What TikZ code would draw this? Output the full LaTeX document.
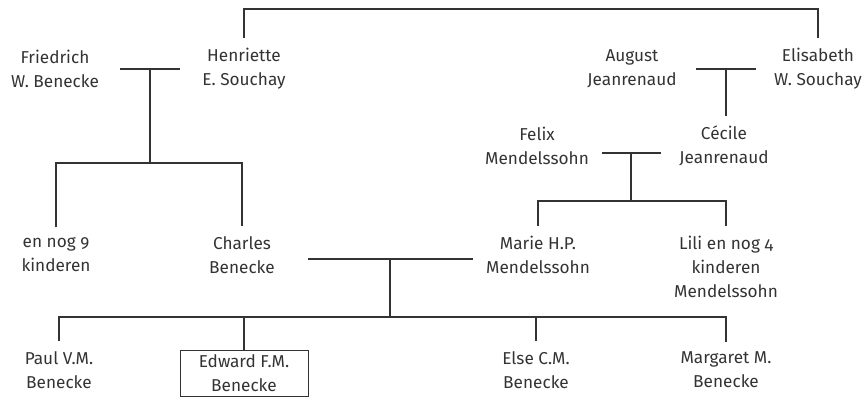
\documentclass[tikz,border=0pt]{standalone}
\usepackage{fontspec}
\setmainfont[Numbers=OldStyle]{Fira Sans}
\usepackage{tikz}
\usetikzlibrary{positioning, calc}

\definecolor{inkgray}{RGB}{51,51,51}

\begin{document}
\begin{tikzpicture}[x=0.5pt, y=-0.5pt,
	person/.style={align=center, text=inkgray, inner xsep=2pt, inner ysep=5pt, font=\fontsize{8.6}{12}\selectfont},
	boxed/.style={person, draw=inkgray, line width=0.5pt, inner ysep=2pt, minimum width=64pt},
	tie/.style={draw=inkgray, line width=0.6pt}]
	\useasboundingbox (0,0) rectangle (865,399);

	% ouders
	\node [person] (fried) at (55,69) {Friedrich\\W. Benecke};
	\node [person] (henr) at (244,69) {Henriette\\E. Souchay};
	\node [person] (aug) at (632,69) {August\\Jeanrenaud};
	\node [person] (elis) at (818,69) {Elisabeth\\W. Souchay};
	\node [person] (felix) at (537,146) {Felix\\Mendelssohn};
	\node [person] (cec) at (724,146) {Cécile\\Jeanrenaud};

	% kinderen
	\node [person] (nog) at (56,255) {en nog 9\\kinderen};
	\node [person] (charles) at (242,255) {Charles\\Benecke};
	\node [person] (marie) at (538,255) {Marie H.P.\\Mendelssohn};
	\node [person] (lili) at (726,267) {Lili en nog 4\\kinderen\\Mendelssohn};

	% kleinkinderen
	\node [person] (paul) at (59,370) {Paul V.M.\\Benecke};
	\node [boxed] (edw) at (244,373.5) {Edward F.M.\\Benecke};
	\node [person] (else) at (536,370) {Else C.M.\\Benecke};
	\node [person] (marg) at (726,370) {Margaret M.\\Benecke};

	% zusters Souchay
	\coordinate (sib) at (530,9);
	\draw [tie] (henr.north) |- (sib) -| (elis.north);

	% Benecke x Souchay
	\coordinate (fh) at (150,69);
	\coordinate (fhkids) at (150,163);
	\draw [tie] ([xshift=-15pt]fh) -- ([xshift=15pt]fh);
	\draw [tie] (fh) -- (fhkids);
	\draw [tie] (nog.north) |- (fhkids) -| (charles.north);

	% Jeanrenaud x Souchay
	\coordinate (ae) at (726,69);
	\draw [tie] ([xshift=-15pt]ae) -- ([xshift=15pt]ae);
	\draw [tie] (ae) -- (ae |- cec.north);

	% Mendelssohn x Jeanrenaud
	\coordinate (fc) at (631,153);
	\coordinate (fckids) at (631,201);
	\draw [tie] ([xshift=-14.5pt]fc) -- ([xshift=15pt]fc);
	\draw [tie] (fc) -- (fckids);
	\draw [tie] (marie.north) |- (fckids) -| (lili.north);

	% Benecke x Mendelssohn
	\coordinate (cm) at (390,259);
	\coordinate (cmkids) at (390,317);
	\draw [tie] (308,259) -- (cm) -- (473,259);
	\draw [tie] (cm) -- (cmkids);
	\draw [tie] (paul.north) |- (cmkids) -| (marg.north);
	\draw [tie] (edw.north) -- (edw.north |- cmkids);
	\draw [tie] (else.north) -- (else.north |- cmkids);
\end{tikzpicture}
\end{document}
